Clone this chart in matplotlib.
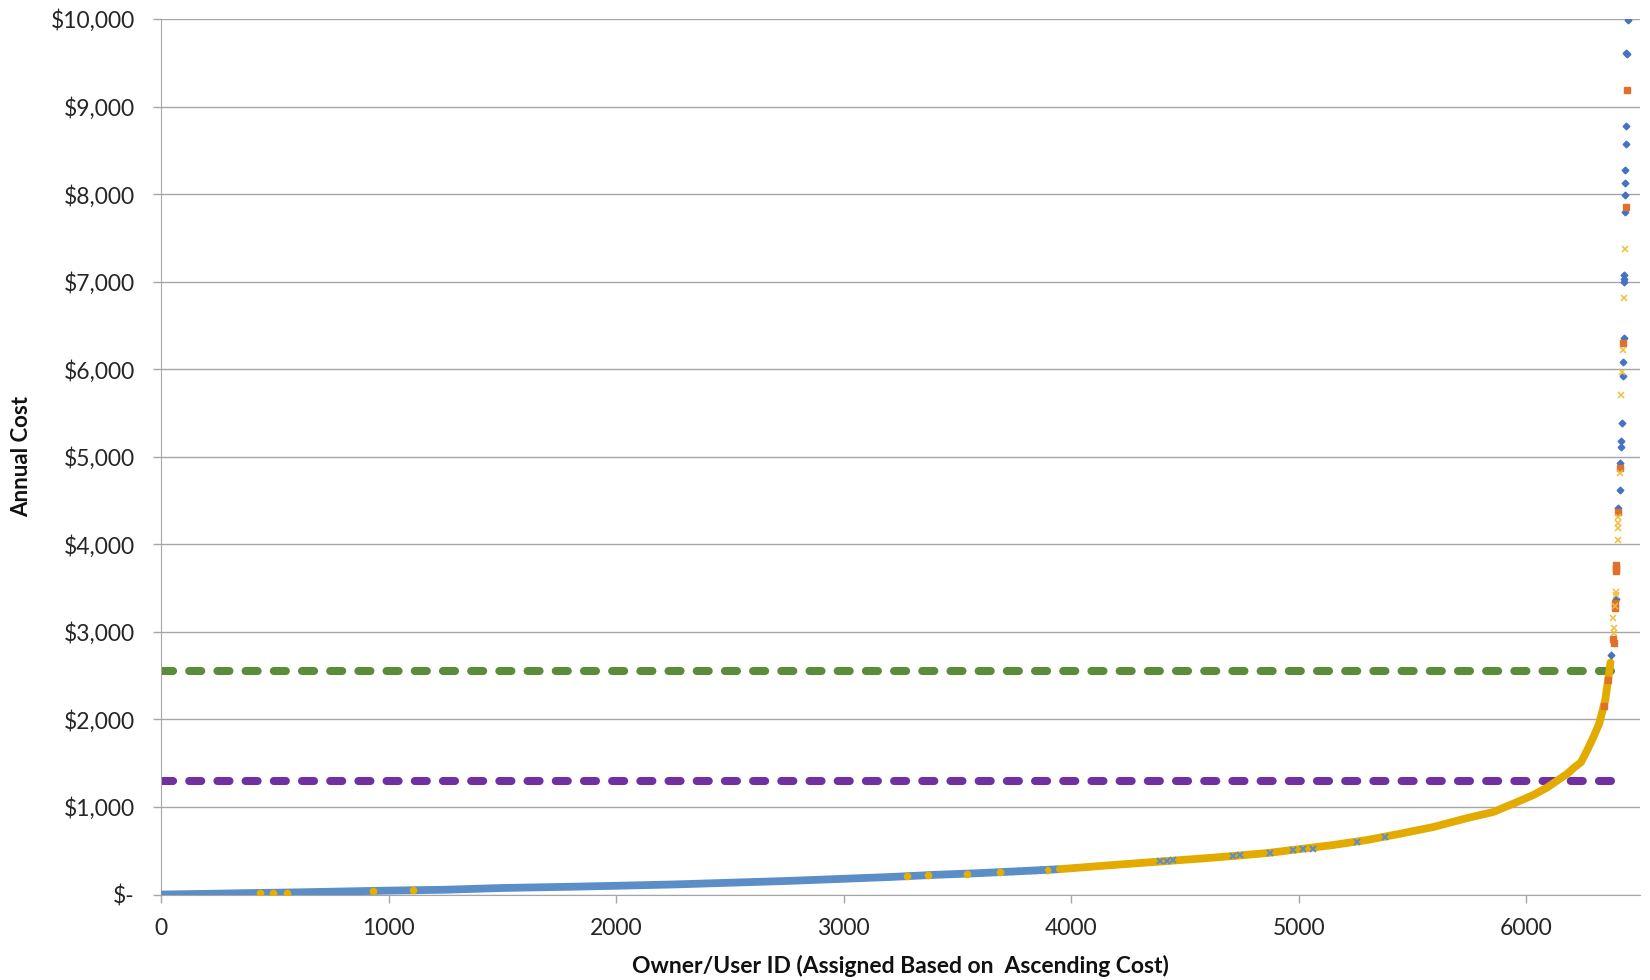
import matplotlib
matplotlib.use('Agg')
import matplotlib.pyplot as plt
import numpy as np
from matplotlib.ticker import FuncFormatter

plt.rcParams['font.family'] = ['Lato', 'DejaVu Sans']

# --- Data ---

# sorted annual cost, low part (blue series dominates)
blue_curve_id = [0, 200, 350, 600, 800, 1000, 1250, 1500, 1800, 2000, 2250,
                 2500, 2750, 3000, 3200, 3400, 3600, 3800, 3950]
blue_curve_cost = [0, 8, 15, 25, 35, 45, 55, 75, 89, 100, 115,
                   135, 155, 180, 200, 225, 245, 270, 290]

# sorted annual cost, upper part (gold series dominates)
gold_curve_id = [3950, 4127, 4300, 4567, 4712, 4862, 5007, 5152, 5301, 5446,
                 5591, 5741, 5855, 5960, 6031, 6090, 6135, 6180, 6210, 6240,
                 6268, 6295, 6320, 6347, 6370]
gold_curve_cost = [290, 326, 360, 410, 440, 474, 520, 566, 623, 695,
                   771, 874, 943, 1057, 1137, 1220, 1300, 1380, 1450, 1510,
                   1651, 1800, 1950, 2223, 2650]

# gold points sitting on the blue stretch
gold_dot_id = [435, 492, 554, 932, 1108, 3279, 3371, 3543, 3688, 3895]
gold_dot_cost = [18, 20, 22, 43, 50, 215, 228, 240, 258, 282]

# blue points sitting on the gold stretch
blue_x_id = [3732, 3780, 3830, 3877, 4391, 4420, 4448, 4712, 4743, 4875,
             4976, 5020, 5064, 5257, 5380]
blue_x_cost = [262, 266, 272, 278, 378, 384, 390, 440, 446, 476,
               505, 515, 525, 605, 660]

# high-cost outliers
diamond_id = [6445, 6440, 6442, 6438, 6438, 6435, 6435, 6435, 6433, 6430,
              6430, 6430, 6428, 6425, 6423, 6420, 6417, 6415, 6412, 6410,
              6405, 6374, 6392]
diamond_cost = [9990, 9610, 9600, 8780, 8570, 8270, 8130, 7995, 7800, 7080,
                7030, 7000, 6360, 6086, 5926, 5390, 5183, 5114, 4931, 4623,
                4417, 2737, 3380]

square_id = [6442, 6437, 6427, 6410, 6405, 6395, 6394, 6393, 6390, 6388,
             6385, 6380, 6360, 6340]
square_cost = [9194, 7857, 6300, 4874, 4371, 3760, 3730, 3700, 3331, 3274,
               2874, 2920, 2450, 2150]

cross_id = [6433, 6428, 6424, 6422, 6418, 6410, 6405, 6404, 6404, 6402,
            6393, 6392, 6382, 6385, 6386, 6390]
cross_cost = [7371, 6817, 6223, 5966, 5709, 4817, 4314, 4246, 4189, 4051,
              3457, 3420, 3160, 2989, 3040, 3300]

# reference levels
green_level = 2550
purple_level = 1300
level_ids = [0, 6435]

x_ticks = [0, 1000, 2000, 3000, 4000, 5000, 6000]
y_ticks = [0, 1000, 2000, 3000, 4000, 5000, 6000, 7000, 8000, 9000, 10000]

# --- Plotting ---
fig = plt.figure(figsize=(16.5, 9.8), dpi=100)
ax = fig.add_axes([0.0976, 0.0872, 0.8964, 0.8934])

ax.plot(blue_curve_id, blue_curve_cost, color='#5B8EC6', linewidth=5.6,
        solid_capstyle='butt', zorder=3)
ax.plot(gold_curve_id, gold_curve_cost, color='#E3AA00', linewidth=5.6,
        solid_capstyle='round', zorder=3)
ax.plot(gold_dot_id, gold_dot_cost, 'o', color='#E8AE00', markersize=4.5,
        linestyle='none', zorder=4)
ax.plot(blue_x_id, blue_x_cost, 'x', color='#5B8EC6', markersize=4,
        markeredgewidth=1.4, linestyle='none', zorder=4)

ax.plot(level_ids, [green_level, green_level], color='#5B8C3A', linewidth=5.8,
        dashes=(1.5, 2.0), dash_capstyle='round', zorder=2)
ax.plot(level_ids, [purple_level, purple_level], color='#7030A0', linewidth=5.8,
        dashes=(1.5, 2.0), dash_capstyle='round', zorder=2)

ax.plot(diamond_id, diamond_cost, 'D', color='#4472C4', markersize=3.4,
        linestyle='none', zorder=5)
ax.plot(square_id, square_cost, 's', color='#E0702A', markersize=4,
        linestyle='none', zorder=5)
ax.plot(cross_id, cross_cost, 'x', color='#F0BE3A', markersize=4.5,
        markeredgewidth=1.1, linestyle='none', zorder=5)

ax.set_xlim(0, 6500)
ax.set_ylim(0, 10000)
ax.set_xticks(x_ticks)
ax.set_yticks(y_ticks)
ax.yaxis.set_major_formatter(FuncFormatter(lambda v, p: '$-' if v == 0 else f'${v:,.0f}'))

ax.grid(axis='y', color='#A6A6A6', linewidth=1.0, zorder=0)
ax.set_axisbelow(True)

for spine in ['top', 'right']:
    ax.spines[spine].set_visible(False)
ax.spines['left'].set_color('#A6A6A6')
ax.spines['bottom'].set_color('#A6A6A6')

ax.tick_params(axis='both', colors='#A6A6A6', labelcolor='#262626', labelsize=16.5,
               length=6, width=1.0, direction='out')
ax.tick_params(axis='y', pad=13)
ax.tick_params(axis='x', pad=11)

ax.set_xlabel('Owner/User ID (Assigned Based on  Ascending Cost)', fontsize=16.5,
              fontweight='bold', color='#111111', labelpad=11)
ax.set_ylabel('Annual Cost', fontsize=16, fontweight='bold', color='#111111', labelpad=13)

plt.savefig('out.png', dpi=100, facecolor='#ffffff')
